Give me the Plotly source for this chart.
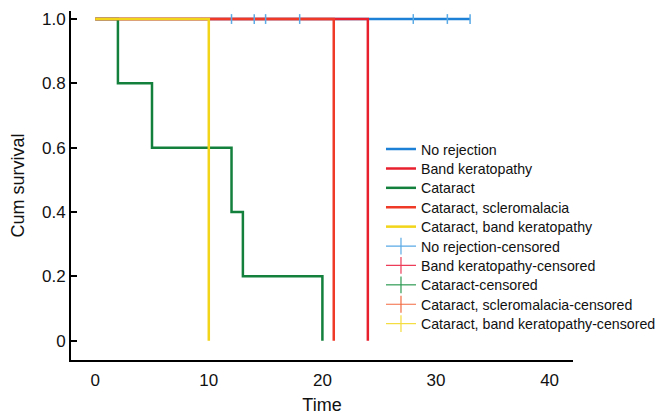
import plotly.graph_objects as go

# ---- data ----
group_names = ["No rejection", "Band keratopathy", "Cataract",
               "Cataract, scleromalacia", "Cataract, band keratopathy"]
group_colors = ["#1c80d6", "#e8202e", "#13803c", "#f03a28", "#f2d418"]
censor_colors = ["#5aaae6", "#ec3c58", "#2e9a52", "#f26a40", "#f4dc3c"]

no_rejection_t = [0, 33]
no_rejection_s = [1.0, 1.0]
band_t = [0, 24]
band_s = [1.0, 0.0]
cataract_t = [0, 2, 5, 12, 13, 20]
cataract_s = [1.0, 0.8, 0.6, 0.4, 0.2, 0.0]
scleromalacia_t = [0, 21]
scleromalacia_s = [1.0, 0.0]
cat_band_t = [0, 10]
cat_band_s = [1.0, 0.0]

no_rejection_cens_t = [12, 14, 15, 18, 28, 31, 33]
no_rejection_cens_s = [1.0, 1.0, 1.0, 1.0, 1.0, 1.0, 1.0]
band_cens_t = []
band_cens_s = []
cataract_cens_t = []
cataract_cens_s = []
scleromalacia_cens_t = []
scleromalacia_cens_s = []
cat_band_cens_t = []
cat_band_cens_s = []

y_tick_vals = [0, 0.2, 0.4, 0.6, 0.8, 1.0]
y_tick_text = ["0", "0.2", "0.4", "0.6", "0.8", "1.0"]
x_tick_vals = [0, 10, 20, 30, 40]

curves = [(no_rejection_t, no_rejection_s), (band_t, band_s), (cataract_t, cataract_s),
          (scleromalacia_t, scleromalacia_s), (cat_band_t, cat_band_s)]
censors = [(no_rejection_cens_t, no_rejection_cens_s), (band_cens_t, band_cens_s),
           (cataract_cens_t, cataract_cens_s), (scleromalacia_cens_t, scleromalacia_cens_s),
           (cat_band_cens_t, cat_band_cens_s)]

# the page adds an 8px body margin; the figure is sized so it fits the 668x415 window
PAGE_OFF = 8
W, H = 668 - PAGE_OFF, 415 - PAGE_OFF
ML, MR, MT, MB = 63, 95, 3, 55
plot_h = H - MT - MB
plot_bottom_win = PAGE_OFF + H - MB

legend_names = []
fig = go.Figure()
for i, (name, col, (t, s)) in enumerate(zip(group_names, group_colors, curves)):
    lg = "legend" if i == 0 else f"legend{i + 1}"
    legend_names.append(lg)
    fig.add_trace(go.Scatter(x=t, y=s, mode="lines", name=name, legend=lg,
                             line=dict(color=col, width=2.5, shape="hv")))
for j, (name, col, (t, s)) in enumerate(zip(group_names, censor_colors, censors)):
    lg = f"legend{j + 6}"
    legend_names.append(lg)
    # censor ticks on the curves
    fig.add_trace(go.Scatter(x=t, y=s, mode="markers", showlegend=False,
                             marker=dict(symbol="line-ns", size=7, color=col,
                                         line=dict(color=col, width=1.5))))
    # legend entry (line with a tick)
    fig.add_trace(go.Scatter(x=[None], y=[None], mode="lines+markers", legend=lg,
                             name=name + "-censored",
                             line=dict(color=col, width=1.2),
                             marker=dict(symbol="line-ns", size=12, color=col,
                                         line=dict(color=col, width=1.2))))

legend_layout = {}
first_center_px = 149.3
step_px = 19.4
for k, lg in enumerate(legend_names):
    cy = first_center_px + k * step_px
    legend_layout[lg] = dict(
        x=0.6175, xanchor="left", y=(plot_bottom_win - cy) / plot_h, yanchor="middle",
        font=dict(size=14.2, color="#111111"), bgcolor="rgba(0,0,0,0)",
        borderwidth=0, itemwidth=30)

fig.update_layout(
    width=W, height=H,
    margin=dict(l=ML, r=MR, t=MT, b=MB, autoexpand=False),
    paper_bgcolor="white", plot_bgcolor="white",
    font=dict(family="Liberation Sans, Arial, sans-serif", color="#111111"),
    showlegend=True,
    xaxis=dict(range=[-2.13, 42.06], tickvals=x_tick_vals, showgrid=False, zeroline=False,
               showline=True, linecolor="black", linewidth=2, ticks="", automargin=False,
               ticklabelstandoff=4,
               tickfont=dict(size=17), title=dict(text="Time", font=dict(size=18), standoff=9)),
    yaxis=dict(range=[-0.06, 1.025], tickvals=y_tick_vals, ticktext=y_tick_text,
               showgrid=False, zeroline=False, showline=True, linecolor="black", linewidth=2,
               ticks="inside", ticklen=6, tickwidth=2, tickcolor="black", automargin=False,
               tickfont=dict(size=17), title=dict(text="Cum survival", font=dict(size=18), standoff=16)),
    **legend_layout,
)

fig.write_html("out.html")
